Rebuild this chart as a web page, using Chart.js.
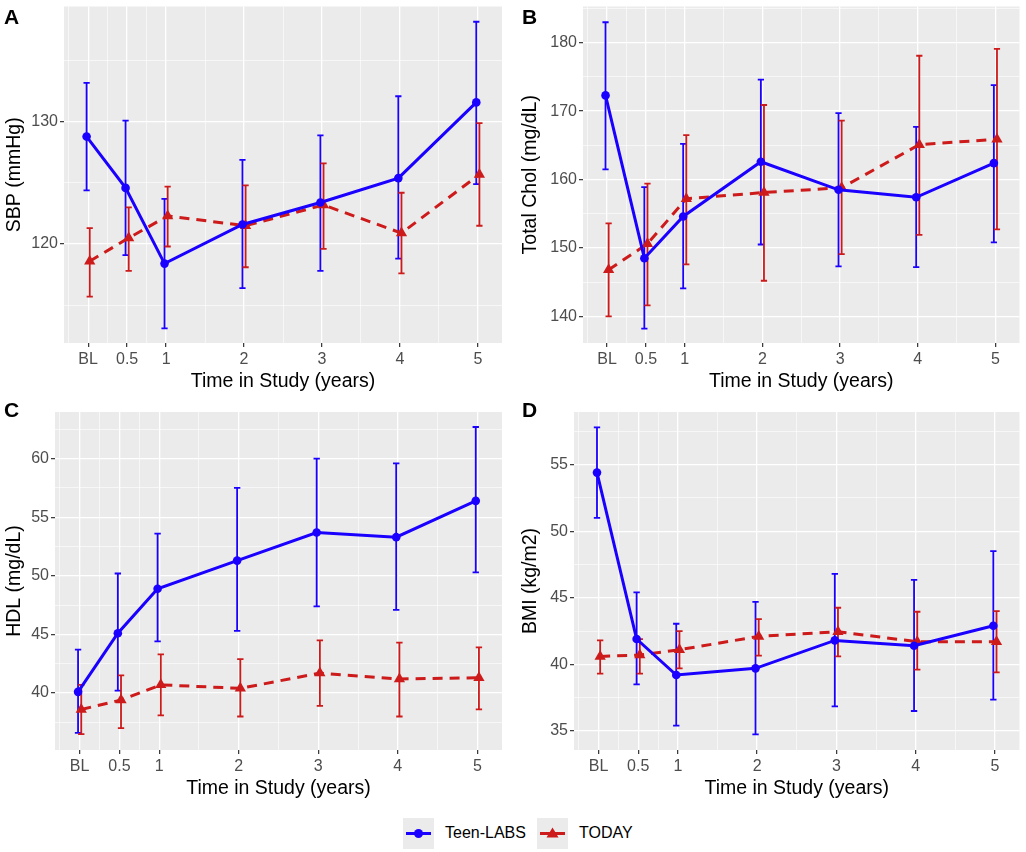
<!DOCTYPE html>
<html>
<head>
<meta charset="utf-8">
<script src="https://cdn.jsdelivr.net/npm/chart.js@4.4.1/dist/chart.umd.min.js"></script>
<style>
  body { margin: 0; background: #ffffff; font-family: "Liberation Sans", Arial, sans-serif; }
  #page { position: relative; width: 1026px; height: 852px; overflow: hidden; }
  canvas { position: absolute; }
  .tag { position: absolute; font-size: 21px; font-weight: bold; line-height: 21px; color: #000; }
  .key { position: absolute; top: 818px; width: 31px; height: 31px; background: #ebebeb; }
  .keytext { position: absolute; top: 823px; font-size: 16px; line-height: 20px; color: #000; }
</style>
</head>
<body>
<div id="page">
  <canvas id="chartA" width="513" height="400" style="left:0;top:0"></canvas>
  <canvas id="chartB" width="513" height="400" style="left:513px;top:0"></canvas>
  <canvas id="chartC" width="513" height="400" style="left:0;top:400px"></canvas>
  <canvas id="chartD" width="513" height="400" style="left:513px;top:400px"></canvas>
  <div class="tag" style="left:4px;top:6px">A</div>
  <div class="tag" style="left:522px;top:6px">B</div>
  <div class="tag" style="left:4px;top:399px">C</div>
  <div class="tag" style="left:522px;top:399px">D</div>

  <div class="key" style="left:403px">
    <svg width="31" height="31"><line x1="3" y1="15.5" x2="28" y2="15.5" stroke="#1a00ff" stroke-width="3"/><circle cx="15.5" cy="15.5" r="4.5" fill="#1a00ff"/></svg>
  </div>
  <div class="keytext" style="left:445px">Teen-LABS</div>
  <div class="key" style="left:537px">
    <svg width="31" height="31"><line x1="3" y1="15.5" x2="28" y2="15.5" stroke="#cd1a1a" stroke-width="3"/><polygon points="15.5,9.5 21.5,19.5 9.5,19.5" fill="#cd1a1a"/></svg>
  </div>
  <div class="keytext" style="left:579px">TODAY</div>
</div>

<script>
// time points (x axis)
const timeLabels = ["BL", "0.5", "1", "2", "3", "4", "5"];
const timeYears = [0, 0.5, 1, 2, 3, 4, 5];

// A: systolic blood pressure
const sbpTicks = [120, 130];
const sbpTeen = [128.8, 124.6, 118.4, 121.6, 123.4, 125.4, 131.6];
const sbpTeenLow = [124.4, 119.1, 113.1, 116.4, 117.8, 118.8, 124.9];
const sbpTeenHigh = [133.2, 130.1, 123.7, 126.9, 128.9, 132.1, 138.2];
const sbpToday = [118.6, 120.5, 122.3, 121.5, 123.2, 120.9, 125.7];
const sbpTodayLow = [115.7, 117.8, 119.8, 118.1, 119.6, 117.6, 121.5];
const sbpTodayHigh = [121.3, 123.0, 124.7, 124.8, 126.6, 124.2, 129.9];

// B: total cholesterol
const cholTicks = [140, 150, 160, 170, 180];
const cholTeen = [172.3, 148.5, 154.6, 162.6, 158.5, 157.4, 162.4];
const cholTeenLow = [161.5, 138.2, 144.1, 150.5, 147.3, 147.2, 150.8];
const cholTeenHigh = [183.0, 158.9, 165.2, 174.6, 169.7, 167.7, 173.8];
const cholToday = [146.8, 150.6, 157.2, 158.1, 158.8, 165.1, 165.9];
const cholTodayLow = [140.0, 141.6, 147.6, 145.2, 149.1, 151.9, 152.7];
const cholTodayHigh = [153.6, 159.4, 166.5, 170.9, 168.6, 178.1, 179.1];

// C: HDL
const hdlTicks = [40, 45, 50, 55, 60];
const hdlTeen = [40.1, 45.1, 48.9, 51.3, 53.7, 53.3, 56.4];
const hdlTeenLow = [36.6, 40.2, 44.4, 45.3, 47.4, 47.1, 50.3];
const hdlTeenHigh = [43.7, 50.2, 53.6, 57.5, 60.0, 59.6, 62.7];
const hdlToday = [38.6, 39.4, 40.7, 40.4, 41.7, 41.2, 41.3];
const hdlTodayLow = [36.5, 37.0, 38.1, 38.0, 38.9, 38.0, 38.6];
const hdlTodayHigh = [40.7, 41.5, 43.3, 42.9, 44.5, 44.3, 43.9];

// D: BMI
const bmiTicks = [35, 40, 45, 50, 55];
const bmiTeen = [54.4, 41.9, 39.2, 39.7, 41.8, 41.4, 42.9];
const bmiTeenLow = [51.0, 38.5, 35.4, 34.75, 36.85, 36.5, 37.35];
const bmiTeenHigh = [57.8, 45.4, 43.05, 44.7, 46.8, 46.35, 48.5];
const bmiToday = [40.6, 40.7, 41.1, 42.1, 42.45, 41.7, 41.7];
const bmiTodayLow = [39.3, 39.3, 39.7, 40.65, 40.6, 39.6, 39.4];
const bmiTodayHigh = [41.8, 41.9, 42.5, 43.4, 44.25, 43.95, 44.0];

const BLUE = "#1a00ff";
const RED = "#cd1a1a";
const FONT = "'Liberation Sans', Arial, sans-serif";

// major ticks plus ggplot style minor lines half way between them
function withMinor(major, min, max) {
    const out = major.map(v => ({ value: v, minor: false }));
    const step0 = major[1] - major[0];
    const stepN = major[major.length - 1] - major[major.length - 2];
    const mids = [major[0] - step0 / 2, major[major.length - 1] + stepN / 2];
    for (let i = 0; i < major.length - 1; i++) {
        mids.push((major[i] + major[i + 1]) / 2);
    }
    mids.forEach(v => {
        if (v > min && v < max) out.push({ value: v, minor: true });
    });
    return out.sort((a, b) => a.value - b.value);
}

const panelBackground = {
    id: "panelBackground",
    beforeDraw(chart) {
        const a = chart.chartArea;
        const ctx = chart.ctx;
        ctx.save();
        ctx.fillStyle = "#ebebeb";
        ctx.fillRect(a.left, a.top, a.right - a.left, a.bottom - a.top);
        ctx.restore();
    }
};

const errorBars = {
    id: "errorBars",
    beforeDatasetsDraw(chart) {
        const ctx = chart.ctx;
        const x = chart.scales.x;
        const y = chart.scales.y;
        chart.data.datasets.forEach(ds => {
            ctx.save();
            ctx.strokeStyle = ds.borderColor;
            ctx.lineWidth = 1.8;
            ds.data.forEach((p, i) => {
                const px = x.getPixelForValue(p.x);
                const half = x.getPixelForValue(p.x + 0.04) - px;
                const top = y.getPixelForValue(ds.errHigh[i]);
                const bot = y.getPixelForValue(ds.errLow[i]);
                ctx.beginPath();
                ctx.moveTo(px, top);
                ctx.lineTo(px, bot);
                ctx.moveTo(px - half, top);
                ctx.lineTo(px + half, top);
                ctx.moveTo(px - half, bot);
                ctx.lineTo(px + half, bot);
                ctx.stroke();
            });
            ctx.restore();
        });
    }
};

const panels = [
    {
        id: "chartA", yTitle: "SBP (mmHg)", ticks: sbpTicks, min: 111.9, max: 139.45,
        teen: [sbpTeen, sbpTeenLow, sbpTeenHigh], today: [sbpToday, sbpTodayLow, sbpTodayHigh],
        axisWidth: 64, pad: { left: 0, top: 5, right: 11, bottom: 7 }, titleX: 15
    },
    {
        id: "chartB", yTitle: "Total Chol (mg/dL)", ticks: cholTicks, min: 136.1, max: 185.3,
        teen: [cholTeen, cholTeenLow, cholTeenHigh], today: [cholToday, cholTodayLow, cholTodayHigh],
        axisWidth: 70, pad: { left: 0, top: 5, right: 5, bottom: 7 }, titleX: 18
    },
    {
        id: "chartC", yTitle: "HDL (mg/dL)", ticks: hdlTicks, min: 35.14, max: 63.98,
        teen: [hdlTeen, hdlTeenLow, hdlTeenHigh], today: [hdlToday, hdlTodayLow, hdlTodayHigh],
        axisWidth: 55, pad: { left: 0, top: 12, right: 11, bottom: 0 }, titleX: 15
    },
    {
        id: "chartD", yTitle: "BMI (kg/m2)", ticks: bmiTicks, min: 33.57, max: 58.95,
        teen: [bmiTeen, bmiTeenLow, bmiTeenHigh], today: [bmiToday, bmiTodayLow, bmiTodayHigh],
        axisWidth: 61, pad: { left: 0, top: 12, right: 5, bottom: 0 }, titleX: 18
    }
];

const gridStyle = {
    color: "#ffffff",
    lineWidth: c => (c.tick && c.tick.minor ? 0.6 : 1.3),
    tickColor: c => (c.tick && c.tick.minor ? "rgba(0,0,0,0)" : "#333333"),
    tickWidth: 1.2,
    tickLength: 4,
    drawTicks: true
};

panels.forEach(p => {
    const xMin = -0.31, xMax = 5.31;
    new Chart(document.getElementById(p.id), {
        type: "line",
        data: {
            datasets: [
                {
                    label: "Teen-LABS",
                    data: p.teen[0].map((v, i) => ({ x: timeYears[i] - 0.02, y: v })),
                    errLow: p.teen[1],
                    errHigh: p.teen[2],
                    borderColor: BLUE,
                    backgroundColor: BLUE,
                    borderWidth: 3,
                    pointStyle: "circle",
                    pointRadius: 4.3,
                    pointBorderWidth: 0,
                    tension: 0
                },
                {
                    label: "TODAY",
                    data: p.today[0].map((v, i) => ({ x: timeYears[i] + 0.02, y: v })),
                    errLow: p.today[1],
                    errHigh: p.today[2],
                    borderColor: RED,
                    backgroundColor: RED,
                    borderWidth: 3,
                    borderDash: [10, 7],
                    pointStyle: "triangle",
                    pointRadius: 6.5,
                    pointBorderWidth: 0,
                    tension: 0
                }
            ]
        },
        options: {
            responsive: false,
            animation: false,
            devicePixelRatio: 1,
            layout: { padding: p.pad },
            plugins: {
                legend: { display: false },
                tooltip: { enabled: false }
            },
            scales: {
                x: {
                    type: "linear",
                    min: xMin,
                    max: xMax,
                    afterBuildTicks: s => { s.ticks = withMinor(timeYears, xMin, xMax); },
                    afterFit: s => {
                        s.height = 50;
                        s.paddingLeft = 0;
                        s.paddingRight = 0;
                    },
                    grid: gridStyle,
                    border: { display: false },
                    ticks: {
                        autoSkip: false,
                        maxRotation: 0,
                        padding: 3,
                        color: "#4d4d4d",
                        font: { family: FONT, size: 16 },
                        callback: (v, i, t) => (t[i].minor ? "" : timeLabels[timeYears.indexOf(v)])
                    },
                    title: {
                        display: true,
                        text: "Time in Study (years)",
                        color: "#000000",
                        font: { family: FONT, size: 19.5 },
                        padding: { top: 0, bottom: 0 }
                    }
                },
                y: {
                    min: p.min,
                    max: p.max,
                    afterBuildTicks: s => { s.ticks = withMinor(p.ticks, p.min, p.max); },
                    afterFit: s => {
                        s.width = p.axisWidth;
                        s.paddingTop = 0;
                        s.paddingBottom = 0;
                    },
                    grid: gridStyle,
                    border: { display: false },
                    ticks: {
                        autoSkip: false,
                        padding: 2,
                        color: "#4d4d4d",
                        font: { family: FONT, size: 16 },
                        callback: (v, i, t) => (t[i].minor ? "" : String(v))
                    },
                    title: {
                        display: true,
                        text: p.yTitle,
                        color: "#000000",
                        font: { family: FONT, size: 19.5 },
                        padding: { top: p.titleX - 11.7, bottom: 0 }
                    }
                }
            }
        },
        plugins: [panelBackground, errorBars]
    });
});
</script>
</body>
</html>
